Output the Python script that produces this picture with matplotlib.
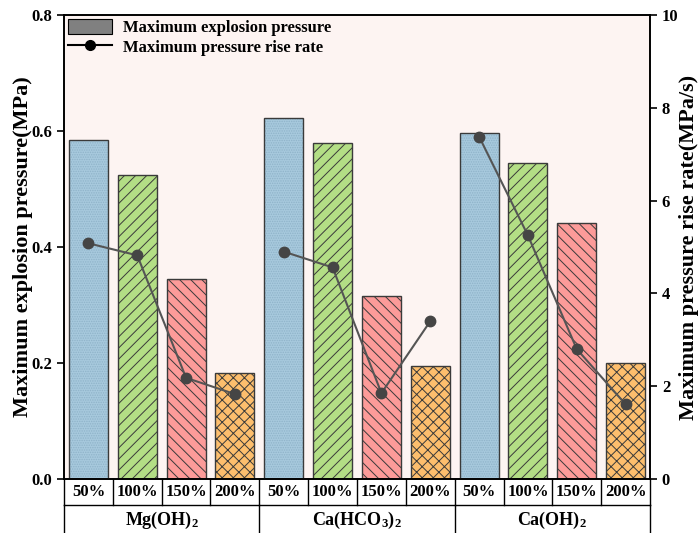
import matplotlib
matplotlib.use("Agg")
import matplotlib.pyplot as plt
import matplotlib.transforms as mtransforms
from matplotlib.patches import Patch
from matplotlib.lines import Line2D

plt.rcParams['font.family'] = ['Liberation Serif', 'DejaVu Serif']
plt.rcParams['font.weight'] = 'bold'
plt.rcParams['mathtext.fontset'] = 'custom'
plt.rcParams['mathtext.rm'] = 'Liberation Serif:bold'
plt.rcParams['mathtext.it'] = 'Liberation Serif:bold'
plt.rcParams['mathtext.bf'] = 'Liberation Serif:bold'
plt.rcParams['mathtext.default'] = 'rm'
plt.rcParams['hatch.linewidth'] = 0.7

# data
groups = [r'Mg(OH)$_2$', r'Ca(HCO$_3$)$_2$', r'Ca(OH)$_2$']
ratios = ['50%', '100%', '150%', '200%']
p_mg = [0.584, 0.525, 0.345, 0.183]
p_cahco3 = [0.622, 0.579, 0.316, 0.194]
p_caoh = [0.596, 0.545, 0.441, 0.200]
r_mg = [5.08, 4.82, 2.18, 1.83]
r_cahco3 = [4.90, 4.56, 1.85, 3.40]
r_caoh = [7.38, 5.25, 2.80, 1.61]

pressures = [p_mg, p_cahco3, p_caoh]
rates = [r_mg, r_cahco3, r_caoh]

colors = ['#a7c9dd', '#b3de85', '#fc9b99', '#fdbe6d']
hatches = ['', '///', '\\\\\\', 'xxx']
edge = '#3a3a3a'

fig = plt.figure(figsize=(7, 5.33), dpi=100)
ax = fig.add_axes([64/700, 54/533, 586/700, 464/533])
ax.set_facecolor('#fdf4f2')
ax2 = ax.twinx()

for g in range(3):
    xs = [g*4 + i for i in range(4)]
    for i in range(4):
        if i == 0:
            # fine dotted texture, then the outline on top
            ax.bar(xs[i], pressures[g][i], width=0.8, color=colors[i],
                   hatch='.......', edgecolor='#8fb3c9', linewidth=0, zorder=2)
            ax.bar(xs[i], pressures[g][i], width=0.8, fill=False,
                   edgecolor=edge, linewidth=1.0, zorder=3)
        else:
            ax.bar(xs[i], pressures[g][i], width=0.8, color=colors[i],
                   hatch=hatches[i], edgecolor=edge, linewidth=1.0, zorder=2)
    ax2.plot(xs, rates[g], color='#555555', linewidth=1.5, marker='o',
             markersize=7.5, markerfacecolor='#454545', markeredgecolor='#454545', zorder=5)

ax.set_xlim(-0.5, 11.5)
ax.set_ylim(0, 0.8)
ax.set_yticks([0, 0.2, 0.4, 0.6, 0.8])
ax.set_yticklabels(['0.0', '0.2', '0.4', '0.6', '0.8'])
ax.set_xticks([])
ax2.set_ylim(0, 10)
ax2.set_yticks([0, 2, 4, 6, 8, 10])
ax.tick_params(axis='y', labelsize=12, length=5, width=1.2, direction='out')
ax2.tick_params(axis='y', labelsize=12, length=5, width=1.2, direction='out')
for a in (ax, ax2):
    for s in a.spines.values():
        s.set_linewidth(1.2)
        s.set_color('black')

ax.set_ylabel('Maximum explosion pressure(MPa)', fontsize=16, fontweight='bold')
ax.yaxis.set_label_coords((33 - 64)/586, 0.5)
ax2.set_ylabel('Maximum pressure rise rate(MPa/s)', fontsize=16, fontweight='bold')
ax2.yaxis.set_label_coords((679 - 64)/586, 0.5)

# category table under the axis
blend = mtransforms.blended_transform_factory(ax.transData, fig.transFigure)
y_top = 54/533
y_mid = 28/533
for k in range(13):
    ax.plot([k - 0.5, k - 0.5], [y_top, y_mid], transform=blend, color='black',
            linewidth=1.0, clip_on=False)
ax.plot([-0.5, 11.5], [y_mid, y_mid], transform=blend, color='black',
        linewidth=1.0, clip_on=False)
for k in range(4):
    ax.plot([k*4 - 0.5, k*4 - 0.5], [y_mid, 0], transform=blend, color='black',
            linewidth=1.0, clip_on=False)
for g in range(3):
    for i in range(4):
        ax.text(g*4 + i, (y_top + y_mid)/2, ratios[i], transform=blend,
                ha='center', va='center', fontsize=12, fontweight='bold')
    ax.text(g*4 + 1.5, 13/533, groups[g], transform=blend,
            ha='center', va='center', fontsize=13, fontweight='bold')

handles = [Patch(facecolor='#808080', edgecolor='black', linewidth=0.8),
           Line2D([], [], color='black', linewidth=1.5, marker='o',
                  markersize=7, markerfacecolor='black')]
ax2.legend(handles, ['Maximum explosion pressure', 'Maximum pressure rise rate'],
           loc='upper left', bbox_to_anchor=(0.0, 1.0), frameon=False,
           prop={'size': 12, 'weight': 'bold'}, handlelength=2.6,
           handleheight=0.95, handletextpad=0.7, labelspacing=0.15,
           borderaxespad=0.0, borderpad=0.25)

fig.savefig('out.png', dpi=100)
